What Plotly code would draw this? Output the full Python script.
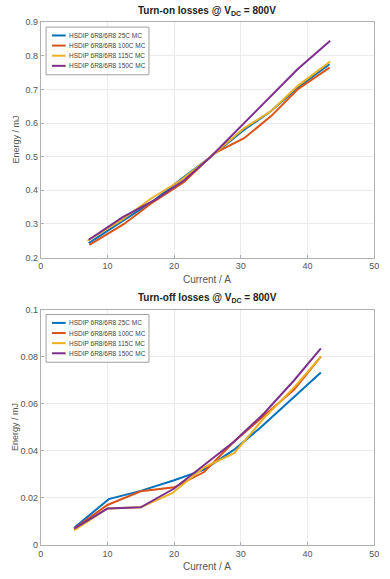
import plotly.graph_objects as go

names = ["HSDIP 6R8/6R8 25C MC", "HSDIP 6R8/6R8 100C MC",
         "HSDIP 6R8/6R8 115C MC", "HSDIP 6R8/6R8 150C MC"]
colors = ["#0072BD", "#D95319", "#EDB120", "#7E2F8E"]

# Turn-on losses (top)
on_x_25 = [7.2, 12.0, 17.0, 21.5, 25.5, 30.5, 34.5, 38.5, 43.3]
on_y_25 = [0.243, 0.305, 0.370, 0.440, 0.500, 0.580, 0.635, 0.705, 0.775]
on_x_100 = [7.3, 12.5, 16.5, 21.5, 26.0, 30.5, 34.5, 38.5, 43.3]
on_y_100 = [0.238, 0.300, 0.360, 0.425, 0.510, 0.555, 0.620, 0.700, 0.765]
on_x_115 = [7.0, 12.0, 16.5, 21.0, 25.5, 30.5, 34.5, 38.5, 43.4]
on_y_115 = [0.250, 0.310, 0.375, 0.430, 0.500, 0.585, 0.635, 0.710, 0.783]
on_x_150 = [7.2, 12.3, 17.2, 21.5, 25.5, 30.0, 34.5, 38.5, 43.4]
on_y_150 = [0.253, 0.320, 0.372, 0.430, 0.500, 0.590, 0.680, 0.760, 0.845]

# Turn-off losses (bottom)
off_x_25 = [5.1, 10.2, 15.0, 20.0, 24.5, 29.0, 33.0, 42.0]
off_y_25 = [0.0075, 0.0195, 0.0230, 0.0275, 0.0320, 0.0405, 0.0500, 0.0733]
off_x_100 = [5.0, 10.0, 15.0, 20.0, 24.5, 29.0, 33.5, 38.0, 42.0]
off_y_100 = [0.0070, 0.0170, 0.0228, 0.0245, 0.0310, 0.0440, 0.0550, 0.0660, 0.0800]
off_x_115 = [5.0, 10.0, 15.0, 19.7, 24.5, 29.0, 33.5, 38.0, 42.0]
off_y_115 = [0.0062, 0.0155, 0.0160, 0.0220, 0.0330, 0.0390, 0.0540, 0.0670, 0.0800]
off_x_150 = [5.0, 10.0, 15.0, 20.0, 24.5, 29.0, 33.5, 38.0, 42.0]
off_y_150 = [0.0070, 0.0155, 0.0160, 0.0240, 0.0340, 0.0440, 0.0560, 0.0700, 0.0835]

on_series = [(on_x_25, on_y_25), (on_x_100, on_y_100), (on_x_115, on_y_115), (on_x_150, on_y_150)]
off_series = [(off_x_25, off_y_25), (off_x_100, off_y_100), (off_x_115, off_y_115), (off_x_150, off_y_150)]

x_ticks = [0, 10, 20, 30, 40, 50]
on_ticks = [0.2, 0.3, 0.4, 0.5, 0.6, 0.7, 0.8, 0.9]
off_ticks = [0, 0.02, 0.04, 0.06, 0.08, 0.1]
on_tick_text = ["0.2", "0.3", "0.4", "0.5", "0.6", "0.7", "0.8", "0.9"]
off_tick_text = ["0", "0.02", "0.04", "0.06", "0.08", "0.1"]

W, H = 390, 579
FONT = "Liberation Sans, Arial, sans-serif"

fig = go.Figure()
for (xs, ys), n, c in zip(on_series, names, colors):
    fig.add_trace(go.Scatter(x=xs, y=ys, mode="lines", name=n, showlegend=False,
                             line=dict(color=c, width=2), xaxis="x", yaxis="y"))
for (xs, ys), n, c in zip(off_series, names, colors):
    fig.add_trace(go.Scatter(x=xs, y=ys, mode="lines", name=n, showlegend=False,
                             line=dict(color=c, width=2), xaxis="x2", yaxis="y2"))

AX_L, AX_R = 38.5, 379.0
TOP_T, TOP_B = 17.5, 257.0
OFF = 292.5  # vertical offset of bottom panel
xd = [AX_L / W, AX_R / W]
top_dom = [1 - TOP_B / H, 1 - TOP_T / H]
bot_dom = [1 - (TOP_B + OFF) / H, 1 - (TOP_T + OFF) / H]

axis_common = dict(showgrid=True, gridcolor="#ebebeb", gridwidth=1,
                   showline=True, linecolor="#b0b0b0", linewidth=1, mirror=True,
                   ticks="inside", ticklen=3, tickcolor="#b0b0b0",
                   tickfont=dict(size=9, color="#555", family=FONT), zeroline=False,
                   ticklabeloverflow="allow")

fig.update_layout(
    width=W, height=H, margin=dict(l=0, r=0, t=0, b=0),
    paper_bgcolor="white", plot_bgcolor="white",
    font=dict(family=FONT, color="#444"),
    showlegend=False,
    xaxis=dict(domain=xd, range=[0, 50], tickvals=x_ticks, anchor="y", **axis_common),
    yaxis=dict(domain=top_dom, range=[0.2, 0.9], tickvals=on_ticks, ticktext=on_tick_text,
               anchor="x", **axis_common),
    xaxis2=dict(domain=xd, range=[0, 50], tickvals=x_ticks, anchor="y2", **axis_common),
    yaxis2=dict(domain=bot_dom, range=[0, 0.1], tickvals=off_ticks, ticktext=off_tick_text,
                anchor="x2", **axis_common),
)


def py(pix):
    return 1 - pix / H


def px(pix):
    return pix / W


titles = ["<b>Turn-on losses @ V<sub>DC</sub> = 800V</b>",
          "<b>Turn-off losses @ V<sub>DC</sub> = 800V</b>"]
for k, t in enumerate(titles):
    dy = OFF * k
    # panel title
    fig.add_annotation(text=t, x=px((AX_L + AX_R) / 2), y=py(6 + dy),
                       xref="paper", yref="paper", xanchor="center", yanchor="middle",
                       showarrow=False, font=dict(size=10, color="#222", family=FONT))
    # axis titles
    fig.add_annotation(text="Current / A", x=px((AX_L + AX_R) / 2), y=py(279 + dy),
                       xref="paper", yref="paper", xanchor="center", yanchor="middle",
                       showarrow=False, font=dict(size=10, color="#555", family=FONT))
    fig.add_annotation(text="Energy / mJ", x=px(13), y=py((TOP_T + TOP_B) / 2 + dy),
                       xref="paper", yref="paper", xanchor="center", yanchor="middle",
                       textangle=-90, showarrow=False,
                       font=dict(size=9, color="#555", family=FONT))
    # legend box
    fig.add_shape(type="rect", xref="paper", yref="paper",
                  x0=px(44), x1=px(149), y0=py(71 + dy), y1=py(22.5 + dy),
                  line=dict(color="#a0a0a0", width=1), fillcolor="white", layer="above")
    for i, (n, c) in enumerate(zip(names, colors)):
        ey = 31 + i * 10.3 + dy
        fig.add_shape(type="line", xref="paper", yref="paper",
                      x0=px(50), x1=px(64), y0=py(ey), y1=py(ey),
                      line=dict(color=c, width=2), layer="above")
        fig.add_annotation(text=n, x=px(65), y=py(ey), xref="paper", yref="paper",
                           xanchor="left", yanchor="middle", showarrow=False,
                           font=dict(size=6.5, color="#444", family=FONT))

fig.write_html("out.html",
               config={"displayModeBar": False},
               post_script="document.body.style.margin='0';"
                           "document.body.style.overflow='hidden';")
